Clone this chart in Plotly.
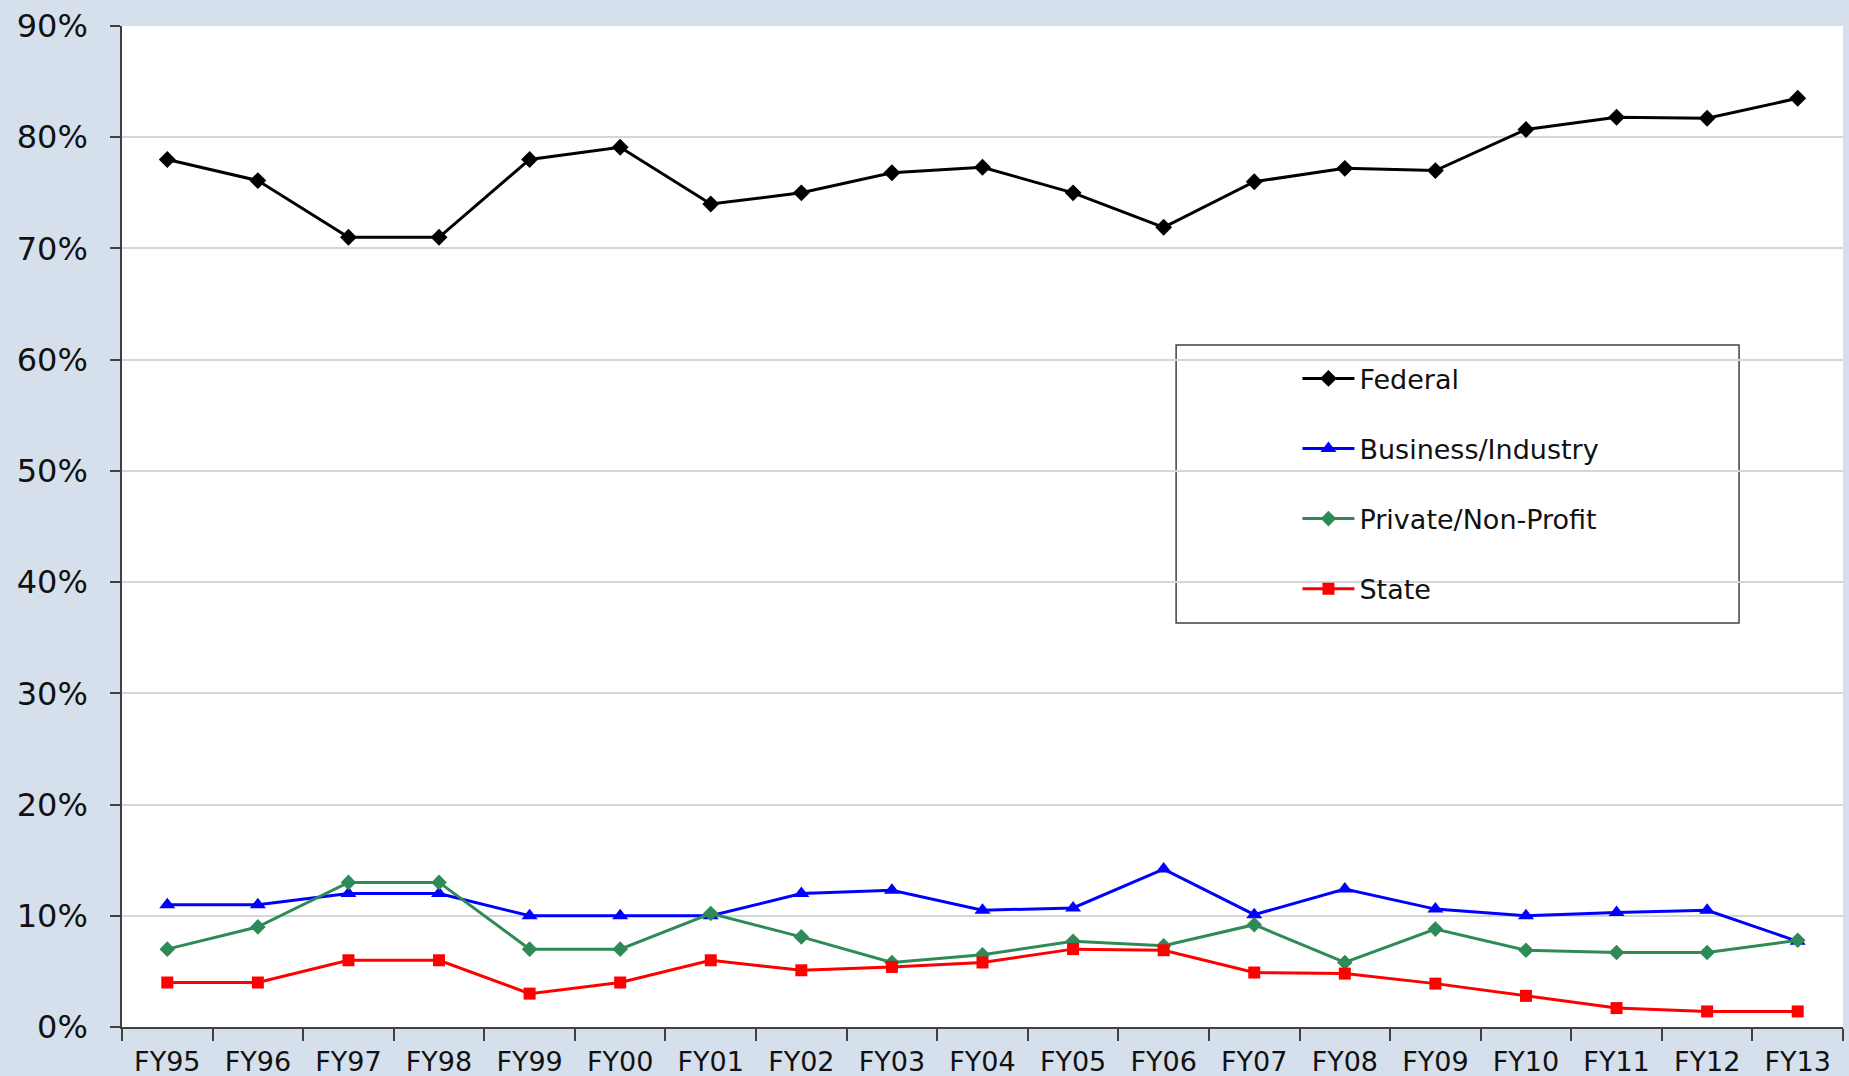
import plotly.graph_objects as go

years = ["FY95", "FY96", "FY97", "FY98", "FY99", "FY00", "FY01", "FY02", "FY03", "FY04",
         "FY05", "FY06", "FY07", "FY08", "FY09", "FY10", "FY11", "FY12", "FY13"]

federal = [78.0, 76.1, 71.0, 71.0, 78.0, 79.1, 74.0, 75.0, 76.8, 77.3,
           75.0, 71.9, 76.0, 77.2, 77.0, 80.7, 81.8, 81.7, 83.5]
business = [11.0, 11.0, 12.0, 12.0, 10.0, 10.0, 10.0, 12.0, 12.3, 10.5,
            10.7, 14.2, 10.1, 12.4, 10.6, 10.0, 10.3, 10.5, 7.7]
private = [7.0, 9.0, 13.0, 13.0, 7.0, 7.0, 10.2, 8.1, 5.8, 6.5,
           7.7, 7.3, 9.2, 5.8, 8.8, 6.9, 6.7, 6.7, 7.8]
state = [4.0, 4.0, 6.0, 6.0, 3.0, 4.0, 6.0, 5.1, 5.4, 5.8,
         7.0, 6.9, 4.9, 4.8, 3.9, 2.8, 1.7, 1.4, 1.4]

series = [
    ("Federal", federal, "#000000", "diamond", 13),
    ("Business/Industry", business, "#0000ff", "triangle-up", 14),
    ("Private/Non-Profit", private, "#2e8b57", "diamond", 12),
    ("State", state, "#ff0000", "square", 12),
]

fig = go.Figure()
for name, vals, color, symbol, size in series:
    fig.add_trace(
        go.Scatter(
            x=years,
            y=vals,
            name=name,
            legendgroup=name,
            mode="lines+markers",
            line=dict(color=color, width=3),
            marker=dict(symbol=symbol, size=size, color=color),
        )
    )

fig.update_layout(
    width=1849,
    height=1076,
    paper_bgcolor="#d6e0ec",
    plot_bgcolor="#ffffff",
    font=dict(family="Verdana, DejaVu Sans", size=27, color="#111111"),
    margin=dict(l=122, r=6, t=26, b=49),
    showlegend=True,
    legend=dict(
        x=0.683,
        y=0.672,
        xanchor="left",
        yanchor="top",
        bgcolor="rgba(0,0,0,0)",
        itemwidth=52,
        tracegroupgap=32,
        font=dict(size=27),
    ),
    shapes=[
        dict(
            type="rect",
            xref="paper",
            yref="paper",
            x0=0.6125,
            x1=0.9396,
            y0=0.4036,
            y1=0.6813,
            line=dict(color="#404040", width=1.5),
            fillcolor="white",
            layer="below",
        )
    ],
)

fig.update_xaxes(
    type="category",
    range=[-0.5, 18.5],
    showgrid=False,
    showline=True,
    linecolor="#404040",
    linewidth=1.5,
    ticks="outside",
    tickson="boundaries",
    ticklen=12,
    tickcolor="#404040",
    tickwidth=1.5,
    ticklabelstandoff=10,
    automargin=False,
)
fig.update_yaxes(
    range=[0, 90],
    dtick=10,
    ticksuffix="%",
    tickfont=dict(size=32),
    showgrid=True,
    gridcolor="#d6d6d6",
    gridwidth=1.5,
    showline=True,
    linecolor="#404040",
    linewidth=1.5,
    ticks="outside",
    ticklen=10,
    tickcolor="#404040",
    tickwidth=1.5,
    ticklabelstandoff=16,
    zeroline=False,
    automargin=False,
)

# page body has a default 8px margin; drop it so the figure fills the window
fig.write_html(
    "out.html",
    config={"displayModeBar": False},
    post_script="document.body.style.margin='0px';document.body.style.overflow='hidden';",
)
